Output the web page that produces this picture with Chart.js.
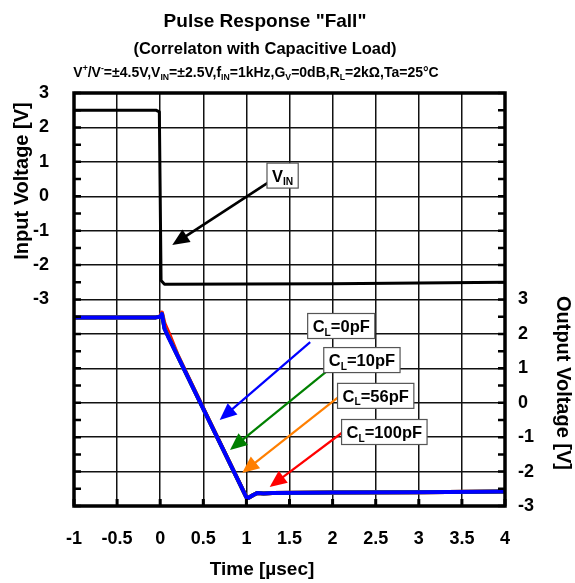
<!DOCTYPE html>
<html>
<head>
<meta charset="utf-8">
<script src="https://cdn.jsdelivr.net/npm/chart.js@4.4.1/dist/chart.umd.min.js"></script>
<style>
  html, body { margin: 0; padding: 0; background: #fff; }
</style>
</head>
<body>
<canvas id="chart" width="575" height="583"></canvas>
<script>
// time axis [µsec]
const timeTicks = [-1, -0.5, 0, 0.5, 1, 1.5, 2, 2.5, 3, 3.5, 4];

// input pulse (left axis)
const inTime = [-1, -0.05, -0.01, 0, 0.01, 0.05, 1, 2, 3, 4];
const inVolt = [2.5, 2.5, 2.45, 0, -2.45, -2.56, -2.55, -2.54, -2.52, -2.5];

// output for each load (right axis), same time points
const outTime  = [-1, -0.05, 0, 0.02, 0.05, 0.1, 0.2, 0.5, 0.8, 1.0, 1.02, 1.08, 1.13, 1.2, 1.3, 2, 3, 4];
const out0pF   = [2.48, 2.48, 2.5, 2.58, 2.15, 1.88, 1.37, -0.18, -1.72, -2.75, -2.77, -2.68, -2.62, -2.64, -2.62, -2.61, -2.6, -2.58];
const out10pF  = [2.48, 2.48, 2.5, 2.58, 2.16, 1.89, 1.37, -0.18, -1.72, -2.75, -2.77, -2.68, -2.62, -2.64, -2.62, -2.61, -2.6, -2.58];
const out56pF  = [2.48, 2.48, 2.5, 2.59, 2.18, 1.91, 1.38, -0.17, -1.72, -2.75, -2.77, -2.68, -2.62, -2.64, -2.62, -2.61, -2.6, -2.58];
const out100pF = [2.48, 2.48, 2.51, 2.62, 2.30, 2.02, 1.40, -0.16, -1.71, -2.74, -2.77, -2.68, -2.62, -2.64, -2.62, -2.61, -2.6, -2.58];

// labels with arrows (data units: time, output voltage)
const loadNames  = ['C_{L}=0pF', 'C_{L}=10pF', 'C_{L}=56pF', 'C_{L}=100pF'];
const loadColors = ['#0000ff', '#008000', '#ff7f00', '#ff0000'];
const labelPos   = [[2.10, 2.23], [2.34, 1.24], [2.50, 0.20], [2.60, -0.85]];
const arrowFrom  = [[1.74, 1.76], [1.92, 0.89], [2.07, 0.17], [2.12, -0.85]];
const arrowTo    = [[0.69, -0.50], [0.81, -1.37], [0.95, -2.04], [1.27, -2.45]];
// V_IN label (time, input voltage)
const vinPos  = [1.42, 0.60];
const vinFrom = [1.26, 0.41];
const vinTo   = [0.14, -1.42];

const titleLines = ['Pulse Response "Fall"', '(Correlaton with Capacitive Load)',
  'V^{+}/V^{-}=±4.5V,V_{IN}=±2.5V,f_{IN}=1kHz,G_{V}=0dB,R_{L}=2kΩ,Ta=25°C'];

const FONT = 'Arial, "Liberation Sans", sans-serif';
const pts = (xs, ys) => xs.map((x, i) => ({ x: x, y: ys[i] }));

// split "A_{b}C^{d}" into pieces
function parseRich(s) {
  const out = [];
  const re = /(\^|_)\{([^}]*)\}|([^_^]+)/g;
  let m;
  while ((m = re.exec(s))) {
    if (m[3]) out.push({ t: m[3], k: '' });
    else out.push({ t: m[2], k: m[1] === '_' ? 'sub' : 'sup' });
  }
  return out;
}

function richWidth(ctx, s, size) {
  let w = 0;
  parseRich(s).forEach(p => {
    ctx.font = 'bold ' + (p.k ? size * 0.62 : size) + 'px ' + FONT;
    w += ctx.measureText(p.t).width;
  });
  return w;
}

function drawRich(ctx, s, x, y, size) {
  // x is the centre, y is the middle
  let cx = x - richWidth(ctx, s, size) / 2;
  ctx.textAlign = 'left';
  ctx.textBaseline = 'alphabetic';
  const base = y + size * 0.36;
  parseRich(s).forEach(p => {
    const fs = p.k ? size * 0.62 : size;
    ctx.font = 'bold ' + fs + 'px ' + FONT;
    let dy = 0;
    if (p.k === 'sub') dy = size * 0.22;
    if (p.k === 'sup') dy = -size * 0.4;
    ctx.fillText(p.t, cx, base + dy);
    cx += ctx.measureText(p.t).width;
  });
}

function arrow(ctx, x1, y1, x2, y2, color, lw) {
  const a = Math.atan2(y2 - y1, x2 - x1);
  const hl = 17, hw = 7.5;
  ctx.strokeStyle = color;
  ctx.fillStyle = color;
  ctx.lineWidth = lw;
  ctx.beginPath();
  ctx.moveTo(x1, y1);
  ctx.lineTo(x2 - Math.cos(a) * hl * 0.8, y2 - Math.sin(a) * hl * 0.8);
  ctx.stroke();
  ctx.beginPath();
  ctx.moveTo(x2, y2);
  ctx.lineTo(x2 - Math.cos(a) * hl - Math.sin(a) * hw, y2 - Math.sin(a) * hl + Math.cos(a) * hw);
  ctx.lineTo(x2 - Math.cos(a) * hl + Math.sin(a) * hw, y2 - Math.sin(a) * hl - Math.cos(a) * hw);
  ctx.closePath();
  ctx.fill();
}

function labelBox(ctx, s, x, y, size) {
  const w = richWidth(ctx, s, size) + 10;
  const h = 25;
  ctx.fillStyle = '#fff';
  ctx.fillRect(x - w / 2, y - h / 2, w, h);
  ctx.strokeStyle = '#555';
  ctx.lineWidth = 1.2;
  ctx.strokeRect(x - w / 2, y - h / 2, w, h);
  ctx.fillStyle = '#000';
  drawRich(ctx, s, x, y, size);
}

const decor = {
  id: 'decor',
  afterDatasetsDraw(chart) {
    const ctx = chart.ctx;
    const xs = chart.scales.x, yl = chart.scales.y, yr = chart.scales.y2;
    ctx.save();
    // output labels and arrows
    loadNames.forEach((name, i) => {
      arrow(ctx, xs.getPixelForValue(arrowFrom[i][0]), yr.getPixelForValue(arrowFrom[i][1]),
        xs.getPixelForValue(arrowTo[i][0]), yr.getPixelForValue(arrowTo[i][1]), loadColors[i], 2.2);
    });
    loadNames.forEach((name, i) => {
      labelBox(ctx, name, xs.getPixelForValue(labelPos[i][0]), yr.getPixelForValue(labelPos[i][1]), 16.5);
    });
    // V_IN
    arrow(ctx, xs.getPixelForValue(vinFrom[0]), yl.getPixelForValue(vinFrom[1]),
      xs.getPixelForValue(vinTo[0]), yl.getPixelForValue(vinTo[1]), '#000', 2.6);
    labelBox(ctx, 'V_{IN}', xs.getPixelForValue(vinPos[0]), yl.getPixelForValue(vinPos[1]), 16.5);
    ctx.restore();
  },
  afterDraw(chart) {
    const ctx = chart.ctx;
    const a = chart.chartArea;
    const xs = chart.scales.x, yl = chart.scales.y, yr = chart.scales.y2;
    ctx.save();
    ctx.strokeStyle = '#000';
    // inward minor ticks
    ctx.lineWidth = 2.5;
    ctx.beginPath();
    for (let v = yl.min; v <= yl.max; v += 0.5) {
      const p = yl.getPixelForValue(v);
      ctx.moveTo(a.left, p); ctx.lineTo(a.left + 7, p);
    }
    for (let v = yr.min; v <= yr.max; v += 0.5) {
      const p = yr.getPixelForValue(v);
      ctx.moveTo(a.right - 7, p); ctx.lineTo(a.right, p);
    }
    ctx.stroke();
    ctx.lineWidth = 3;
    ctx.beginPath();
    timeTicks.forEach(t => {
      const p = xs.getPixelForValue(t);
      ctx.moveTo(p, a.bottom); ctx.lineTo(p, a.bottom - 7);
    });
    ctx.stroke();
    // frame
    ctx.lineWidth = 3.5;
    ctx.strokeRect(a.left, a.top, a.right - a.left, a.bottom - a.top);

    // titles
    ctx.fillStyle = '#000';
    drawRich(ctx, titleLines[0], 265, 20, 19);
    drawRich(ctx, titleLines[1], 265, 48, 16.5);
    drawRich(ctx, titleLines[2], 256, 72, 14);

    // axis titles
    ctx.font = 'bold 19px ' + FONT;
    ctx.textAlign = 'center';
    ctx.textBaseline = 'middle';
    ctx.fillText('Time [µsec]', 262, 570);
    ctx.save();
    ctx.translate(22, 181);
    ctx.rotate(-Math.PI / 2);
    ctx.font = 'bold 20px ' + FONT;
    ctx.fillText('Input Voltage [V]', 0, 0);
    ctx.restore();
    ctx.save();
    ctx.translate(563, 383);
    ctx.rotate(Math.PI / 2);
    ctx.font = 'bold 20px ' + FONT;
    ctx.fillText('Output Voltage [V]', 0, 0);
    ctx.restore();
    ctx.restore();
  }
};

const tickFont = { family: FONT, size: 18, weight: 'bold' };

new Chart(document.getElementById('chart').getContext('2d'), {
  type: 'line',
  data: {
    datasets: [
      { label: 'CL=0pF', data: pts(outTime, out0pF), yAxisID: 'y2', borderColor: '#0000ff', borderWidth: 4 },
      { label: 'CL=10pF', data: pts(outTime, out10pF), yAxisID: 'y2', borderColor: '#008000', borderWidth: 4 },
      { label: 'CL=56pF', data: pts(outTime, out56pF), yAxisID: 'y2', borderColor: '#ff7f00', borderWidth: 4 },
      { label: 'CL=100pF', data: pts(outTime, out100pF), yAxisID: 'y2', borderColor: '#ff0000', borderWidth: 4 },
      { label: 'VIN', data: pts(inTime, inVolt), yAxisID: 'y', borderColor: '#000', borderWidth: 3 }
    ]
  },
  options: {
    responsive: false,
    animation: false,
    layout: { padding: { top: 93, left: 0, right: 0, bottom: 0 } },
    elements: { point: { radius: 0 }, line: { tension: 0, borderJoinStyle: 'round' } },
    plugins: { legend: { display: false }, tooltip: { enabled: false }, title: { display: false } },
    scales: {
      x: {
        type: 'linear', min: -1, max: 4,
        afterBuildTicks: axis => { axis.ticks = timeTicks.map(v => ({ value: v })); },
        afterFit: s => { s.height = 77; },
        ticks: { font: tickFont, color: '#000', padding: 22, maxRotation: 0, callback: v => String(v) },
        grid: { color: '#111', lineWidth: 1.5, drawTicks: false },
        border: { display: false }
      },
      y: {
        position: 'left', min: -9, max: 3,
        afterFit: s => { s.width = 74; },
        ticks: { stepSize: 1, font: tickFont, color: '#000', padding: 25,
          callback: v => (v >= -3 ? String(v) : '') },
        grid: { color: '#111', lineWidth: 1.5, drawTicks: false },
        border: { display: false }
      },
      y2: {
        position: 'right', min: -3, max: 9,
        afterFit: s => { s.width = 70; },
        ticks: { stepSize: 1, font: tickFont, color: '#000', padding: 13,
          callback: v => (v <= 3 ? String(v) : '') },
        grid: { display: false, drawTicks: false },
        border: { display: false }
      }
    }
  },
  plugins: [decor]
});
</script>
</body>
</html>
